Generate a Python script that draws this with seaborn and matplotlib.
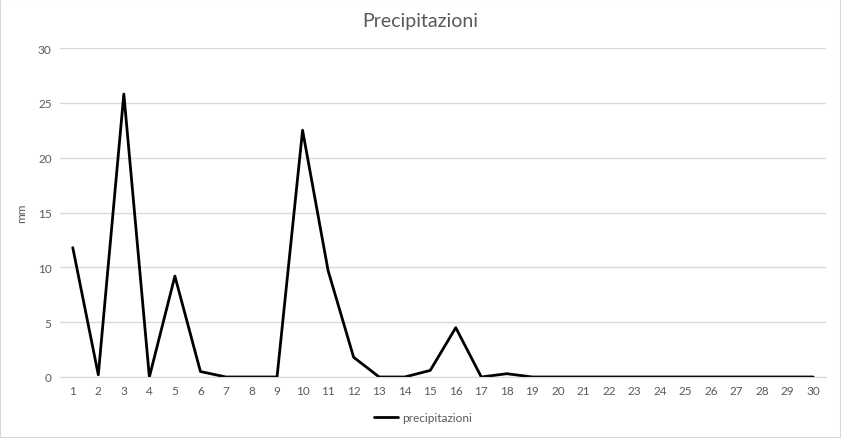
import matplotlib
matplotlib.use("Agg")
import matplotlib.pyplot as plt
import seaborn as sns
import pandas as pd

days = list(range(1, 31))
precipitazioni = [11.8, 0.2, 25.8, 0.0, 9.2, 0.5, 0.0, 0.0, 0.0, 22.5,
                  9.7, 1.8, 0.0, 0.0, 0.6, 4.5, 0.0, 0.3, 0.0, 0.0,
                  0.0, 0.0, 0.0, 0.0, 0.0, 0.0, 0.0, 0.0, 0.0, 0.0]

df = pd.DataFrame({"giorno": days, "mm": precipitazioni})

sns.set_style("white")
plt.rcParams['font.family'] = ['Lato', 'DejaVu Sans']

fig = plt.figure(figsize=(8.41, 4.39), dpi=100)
ax = fig.add_axes([60/841, 61/439, 766/841, 329/439])

sns.lineplot(data=df, x="giorno", y="mm", ax=ax, color="black", linewidth=2.0,
             label="precipitazioni")

ax.set_xlim(0.5, 30.5)
ax.set_ylim(0, 30)
ax.set_yticks([0, 5, 10, 15, 20, 25, 30])
ax.set_xticks(days)
ax.set_xticklabels([str(d) for d in days])
ax.yaxis.grid(True, color="#d9d9d9", linewidth=1)
ax.set_axisbelow(True)
for s in ["top", "right", "left"]:
    ax.spines[s].set_visible(False)
ax.spines["bottom"].set_color("#d9d9d9")
ax.tick_params(axis="both", length=0, labelsize=8.5, colors="#595959", pad=6)
ax.set_xlabel("")
ax.set_ylabel("mm", fontsize=8.5, color="#595959")
ax.yaxis.set_label_coords(-33/766, 0.5)

fig.suptitle("Precipitazioni", x=0.5, y=1 - 22/439, va="center", fontsize=14, color="#595959")

ax.legend(loc="center", bbox_to_anchor=((423 - 60)/766, -(419 - 378)/329), frameon=False,
          fontsize=8.5, labelcolor="#595959", handlelength=2.0, handletextpad=0.4)

fig.patches.append(plt.Rectangle((0, 0), 1, 1, transform=fig.transFigure, fill=False,
                                 edgecolor="#d9d9d9", linewidth=1.5))

fig.savefig("out.png", dpi=100)
